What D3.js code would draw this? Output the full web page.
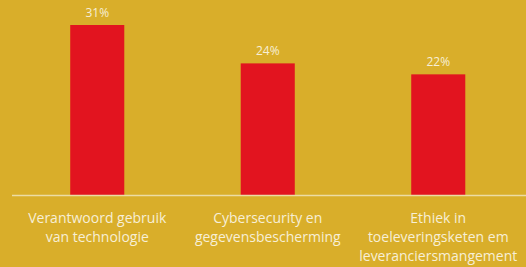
<!DOCTYPE html>
<html>
<head>
<meta charset="utf-8">
<script src="https://cdn.jsdelivr.net/npm/d3@7"></script>
<style>
  body { margin: 0; background: #d9ae2a; }
  svg { display: block; }
</style>
</head>
<body>
<script>
var w = 526, h = 267;
var categories = ["Verantwoord gebruik|van technologie", "Cybersecurity en|gegevensbescherming", "Ethiek in|toeleveringsketen em|leveranciersmangement"];
var values = [31, 24, 22];
var valueLabels = ["31%", "24%", "22%"];

var svg = d3.select('body').append('svg')
    .attr('width', w)
    .attr('height', h);

svg.append('rect')
    .attr('width', w)
    .attr('height', h)
    .attr('fill', '#d9ae2a');

// scales
var xScale = d3.scaleBand()
    .domain(categories)
    .range([12, 523.5])
    .paddingInner(0.683)
    .paddingOuter(0.3415);

var yScale = d3.scaleLinear()
    .domain([0, 31])
    .range([195, 25]);

// bars
svg.selectAll('.bar')
    .data(values)
    .enter()
    .append('rect')
    .attr('class', 'bar')
    .attr('x', function (d, i) { return xScale(categories[i]); })
    .attr('y', function (d) { return yScale(d); })
    .attr('width', xScale.bandwidth())
    .attr('height', function (d) { return yScale(0) - yScale(d); })
    .attr('fill', '#e2141f');

// value labels
svg.selectAll('.val')
    .data(values)
    .enter()
    .append('text')
    .attr('class', 'val')
    .attr('x', function (d, i) { return xScale(categories[i]) + xScale.bandwidth() / 2; })
    .attr('y', function (d) { return yScale(d) - 8; })
    .attr('text-anchor', 'middle')
    .attr('font-family', '"Open Sans", sans-serif')
    .attr('font-size', 12)
    .attr('font-weight', 500)
    .attr('fill', '#f7efd6')
    .text(function (d, i) { return valueLabels[i]; });

// x axis (line only)
var xAxis = d3.axisBottom(xScale).tickSize(0).tickFormat('');
var gx = svg.append('g')
    .attr('transform', 'translate(0,' + yScale(0) + ')')
    .call(xAxis);
gx.select('.domain')
    .attr('d', 'M12,0.5H526')
    .attr('stroke', '#ecdca4')
    .attr('stroke-width', 1.5);

// category labels
var labels = svg.selectAll('.cat')
    .data(categories)
    .enter()
    .append('text')
    .attr('class', 'cat')
    .attr('text-anchor', 'middle')
    .attr('font-family', '"Open Sans", sans-serif')
    .attr('font-size', 14)
    .attr('fill', '#f7efd6')
    .attr('transform', function (d) {
        return 'translate(' + (xScale(d) + xScale.bandwidth() / 2) + ',223)';
    });

labels.selectAll('tspan')
    .data(function (d) { return d.split('|'); })
    .enter()
    .append('tspan')
    .attr('x', 0)
    .attr('y', function (d, i) { return i * 19; })
    .text(function (d) { return d; });
</script>
</body>
</html>
